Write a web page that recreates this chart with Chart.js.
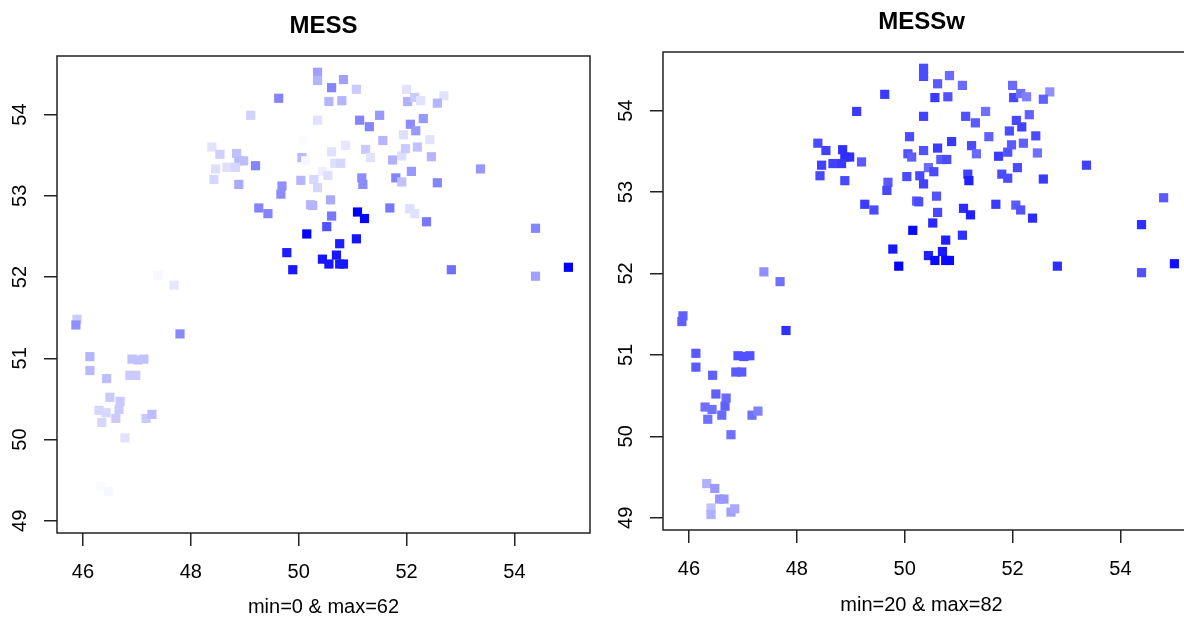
<!DOCTYPE html>
<html lang="en">
<head>
<meta charset="UTF-8">
<title>MESS / MESSw</title>
<script src="https://cdn.jsdelivr.net/npm/chart.js"></script>
<style>
    body { margin: 0; background: #fff; overflow: hidden; }
    #wrap { position: relative; width: 1184px; height: 617px; overflow: hidden; }
    .panel { position: absolute; top: 0; }
</style>
</head>
<body>
<div id="wrap">
    <canvas id="messChart" class="panel" width="600" height="617" style="left:0"></canvas>
    <canvas id="messwChart" class="panel" width="620" height="617" style="left:592px"></canvas>
</div>
<script>
// point locations (longitude / latitude)
const lon = [50.35, 50.35, 50.83, 50.61, 51.07, 52.00, 49.63, 50.56, 50.80, 52.02,
    52.15, 52.26, 52.69, 52.57, 49.11, 50.35, 51.13, 51.31, 51.50, 52.31,
    52.07, 52.17, 51.94, 52.43, 50.09, 50.87, 51.56, 48.39, 48.54, 48.85,
    48.89, 48.98, 49.20, 48.67, 48.83, 48.46, 48.43, 48.89, 50.06, 50.13,
    50.35, 50.61, 51.24, 51.33, 50.67, 50.78, 51.74, 51.91, 51.98, 52.20,
    52.46, 50.44, 50.54, 50.04, 50.28, 50.35, 49.69, 49.67, 51.17, 51.19,
    51.80, 51.91, 52.09, 52.57, 53.37, 49.26, 49.43, 50.22, 50.26, 50.59,
    50.61, 51.09, 51.22, 51.69, 52.06, 52.15, 52.37, 50.52, 50.15, 50.76,
    51.07, 49.78, 50.44, 50.70, 50.56, 50.76, 50.83, 49.89, 52.83, 54.39,
    54.39, 54.80, 55.00, 47.39, 47.69, 45.89, 45.87, 47.80, 46.13, 46.13,
    46.44, 46.91, 47.02, 47.13, 46.87, 46.98, 46.50, 46.69, 46.67, 46.30,
    46.43, 46.35, 46.61, 47.17, 47.28, 46.78, 46.33, 46.48, 46.57, 46.65,
    46.41, 46.41, 46.78, 46.85];
const lat = [54.52, 54.42, 54.43, 54.33, 54.31, 54.31, 54.20, 54.16, 54.17, 54.16,
    54.21, 54.17, 54.23, 54.14, 53.99, 53.93, 53.93, 53.85, 53.99, 53.95,
    53.88, 53.80, 53.75, 53.69, 53.68, 53.62, 53.68, 53.60, 53.51, 53.52,
    53.43, 53.43, 53.37, 53.35, 53.35, 53.33, 53.20, 53.14, 53.47, 53.43,
    53.51, 53.54, 53.57, 53.47, 53.40, 53.40, 53.44, 53.49, 53.58, 53.60,
    53.48, 53.30, 53.25, 53.19, 53.20, 53.10, 53.12, 53.02, 53.22, 53.14,
    53.22, 53.17, 53.30, 53.16, 53.33, 52.85, 52.78, 52.89, 52.88, 52.95,
    52.75, 52.80, 52.72, 52.85, 52.84, 52.78, 52.68, 52.62, 52.53, 52.41,
    52.47, 52.30, 52.22, 52.27, 52.16, 52.16, 52.16, 52.09, 52.09, 52.60,
    52.01, 52.93, 52.12, 52.02, 51.90, 51.48, 51.41, 51.30, 51.02, 50.85,
    50.75, 50.99, 50.98, 50.99, 50.79, 50.79, 50.52, 50.47, 50.37, 50.36,
    50.33, 50.21, 50.26, 50.26, 50.31, 50.02, 49.42, 49.36, 49.23, 49.23,
    49.12, 49.04, 49.07, 49.11];
// MESS value of each point
const mess = [23, 18, 23, 30, 13, 7, 30, 18, 18, 19,
    13, 7, 7, 18, 11, 7, 30, 30, 25, 25,
    28, 25, 8, 7, 1, 6, 18, 7, 12, 15,
    17, 16, 30, 8, 10, 8, 10, 21, 17, 2,
    0, 7, 13, 7, 8, 10, 19, 8, 13, 15,
    18, 4, 8, 18, 10, 10, 27, 28, 28, 28,
    30, 15, 25, 30, 25, 30, 30, 18, 18, 21,
    33, 62, 60, 33, 8, 7, 33, 42, 62, 55,
    57, 55, 57, 56, 57, 56, 56, 56, 35, 30,
    23, 0, 62, 2, 6, 13, 27, 29, 18, 17,
    16, 15, 15, 15, 13, 13, 13, 13, 13, 10,
    10, 10, 13, 13, 16, 7, 1, 2, 0, 0,
    0, 0, 0, 0];
// MESSw value of each point
const messw = [58, 58, 48, 53, 48, 48, 63, 63, 56, 59,
    46, 41, 36, 51, 63, 61, 56, 53, 46, 51,
    59, 61, 58, 58, 58, 64, 51, 58, 61, 67,
    67, 67, 53, 61, 63, 61, 59, 59, 56, 51,
    56, 63, 58, 48, 53, 58, 63, 56, 53, 51,
    46, 48, 58, 58, 59, 61, 53, 59, 61, 72,
    58, 58, 58, 63, 61, 63, 58, 51, 58, 56,
    59, 68, 72, 63, 53, 56, 68, 69, 79, 72,
    67, 74, 72, 74, 79, 79, 79, 82, 67, 67,
    56, 53, 77, 36, 46, 51, 51, 67, 53, 53,
    51, 56, 56, 56, 53, 53, 51, 48, 51, 46,
    46, 46, 48, 46, 41, 46, 25, 33, 33, 33,
    20, 25, 31, 28];

const xTicks = [46, 48, 50, 52, 54];
const yTicks = [49, 50, 51, 52, 53, 54];

const FONT = "'Liberation Sans', Arial, sans-serif";

// white -> blue ramp
function rampColor(v, top) {
    const l = Math.round(255 * (1 - v / top));
    return 'rgb(' + l + ',' + l + ',255)';
}

// box around the plot, tick labels, title and sub title like base R graphics
const rFrame = {
    id: 'rFrame',
    afterDraw(chart, args, opts) {
        const { ctx, chartArea: a, scales } = chart;
        const cx = (a.left + a.right) / 2;
        ctx.save();
        ctx.strokeStyle = '#222';
        ctx.lineWidth = 1.5;
        ctx.strokeRect(a.left, a.top, a.right - a.left, a.bottom - a.top);

        ctx.fillStyle = '#000';
        ctx.textAlign = 'center';
        ctx.textBaseline = 'middle';
        ctx.font = '20px ' + FONT;
        xTicks.forEach(t => ctx.fillText(String(t), scales.x.getPixelForValue(t), a.bottom + 39));
        yTicks.forEach(t => {
            ctx.save();
            ctx.translate(a.left - 37, scales.y.getPixelForValue(t));
            ctx.rotate(-Math.PI / 2);
            ctx.fillText(String(t), 0, 0);
            ctx.restore();
        });
        ctx.fillText(opts.sub, cx + opts.shift, opts.subY);
        ctx.font = 'bold 24px ' + FONT;
        ctx.fillText(opts.title, cx + opts.shift, opts.titleY);
        ctx.restore();
    }
};

function makePanel(id, values, p) {
    const top = Math.max(...values);
    const pts = lon.map((x, i) => ({ x: x, y: lat[i] }));
    const tickGrid = { drawOnChartArea: false, drawTicks: true, tickLength: 13, color: '#222', lineWidth: 1.5 };
    return new Chart(document.getElementById(id), {
        type: 'scatter',
        data: {
            datasets: [{
                data: pts,
                pointStyle: 'rect',
                pointRadius: 6.5,
                borderWidth: 0,
                pointBackgroundColor: values.map(v => rampColor(v, top))
            }]
        },
        options: {
            responsive: false,
            animation: false,
            events: [],
            layout: { padding: { top: p.top, right: p.right, left: 0, bottom: 0 } },
            scales: {
                x: {
                    type: 'linear', min: 45.52, max: 55.4,
                    afterBuildTicks: s => { s.ticks = xTicks.map(v => ({ value: v })); },
                    afterFit: s => { s.height = p.bottom; },
                    ticks: { display: false },
                    grid: tickGrid,
                    border: { display: false }
                },
                y: {
                    type: 'linear', min: 48.85, max: 54.72,
                    afterBuildTicks: s => { s.ticks = yTicks.map(v => ({ value: v })); },
                    afterFit: s => { s.width = p.left; },
                    ticks: { display: false },
                    grid: tickGrid,
                    border: { display: false }
                }
            },
            plugins: {
                legend: { display: false },
                tooltip: { enabled: false },
                rFrame: { title: p.title, sub: p.sub, titleY: p.titleY, subY: p.subY, shift: p.shift }
            }
        },
        plugins: [rFrame]
    });
}

makePanel('messChart', mess, {
    top: 56, right: 10, left: 57, bottom: 84,
    title: 'MESS', sub: 'min=0 & max=62', titleY: 26, subY: 607, shift: 0
});
makePanel('messwChart', messw, {
    top: 52, right: 16, left: 71, bottom: 87,
    title: 'MESSw', sub: 'min=20 & max=82', titleY: 22, subY: 605, shift: -8
});
</script>
</body>
</html>
